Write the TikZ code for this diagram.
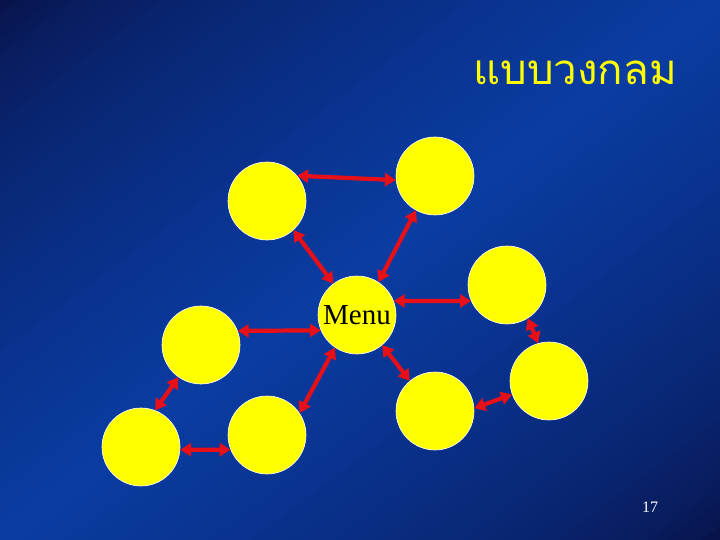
\documentclass[tikz,border=0pt]{standalone}
\usepackage{fontspec}
\setmainfont{Liberation Serif}
\newfontfamily\thaifont[Script=Thai]{Loma}
\usetikzlibrary{arrows.meta}
\definecolor{bgdark}{RGB}{8,16,68}
\definecolor{bgbright}{RGB}{10,60,162}
\definecolor{ballyellow}{RGB}{255,255,0}
\definecolor{arrowred}{RGB}{232,16,24}
\begin{document}
\begin{tikzpicture}[x=1pt,y=-1pt,
  ball/.style={circle, fill=ballyellow, draw=white, line width=0.6pt, minimum size=78pt, inner sep=0pt},
  link/.style={draw=arrowred, line width=4.2pt, {Triangle[length=11pt,width=13pt]}-{Triangle[length=11pt,width=13pt]}}]
\useasboundingbox (0,0) rectangle (720,540);
\begin{scope}
  \clip (0,0) rectangle (720,540);
  \foreach \i in {0,...,79} {
    \pgfmathsetmacro\ua{\i/40}
    \pgfmathsetmacro\ub{(\i+1.1)/40}
    \pgfmathsetmacro\um{(\i+0.5)/40}
    \pgfmathsetmacro\mixv{100*(1-abs(\um-1))^0.6}
    \colorlet{stripc}{bgbright!\mixv!bgdark}
    \fill[stripc] (720*\ua,0) -- (720*\ub,0) -- (0,540*\ub) -- (0,540*\ua) -- cycle;
  }
\end{scope}

\node[ball] (A) at (267,201) {};
\node[ball] (B) at (435,176) {};
\node[ball, font=\fontsize{29}{31}\selectfont] (M) at (357,315) {Menu};
\node[ball] (C) at (507,285) {};
\node[ball] (D) at (549,381) {};
\node[ball] (E) at (435,411) {};
\node[ball] (F) at (201,345) {};
\node[ball] (G) at (141,447) {};
\node[ball] (H) at (267,435) {};

\draw[link] (A.40) -- (B.186);
\draw[link] (A.-48) -- (M.127);
\draw[link] (B.-119) -- (M.57);
\draw[link] (M.21) -- (C.204);
\draw[link] (C.-58) -- (D.106);
\draw[link] (D.200) -- (E.4);
\draw[link] (M.-50) -- (E.130);
\draw[link] (M.203) -- (F.21);
\draw[link] (M.236) -- (H.34);
\draw[link] (F.235) -- (G.69);
\draw[link] (G.-4) -- (H.202);

\node[font=\thaifont\fontsize{42}{50}\selectfont, text=ballyellow, anchor=base] (title) at (575,85) {แบบวงกลม};
\node[font=\fontsize{16}{18}\selectfont, text=white, anchor=base] (pg) at (650,512) {17};
\end{tikzpicture}
\end{document}
